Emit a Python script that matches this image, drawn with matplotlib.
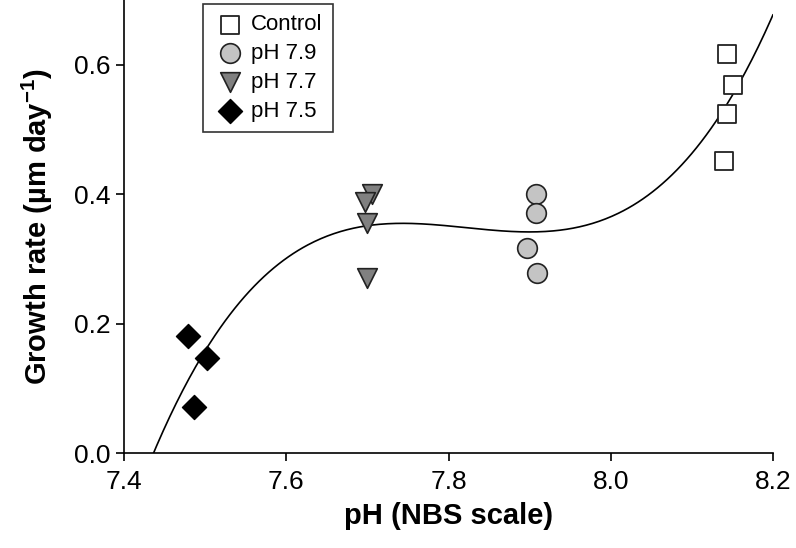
import matplotlib
matplotlib.use('Agg')
import matplotlib.pyplot as plt
import numpy as np

plt.rcParams['font.family'] = ['Liberation Sans', 'DejaVu Sans']
plt.rcParams['mathtext.fontset'] = 'custom'
plt.rcParams['mathtext.rm'] = 'Liberation Sans'
plt.rcParams['mathtext.bf'] = 'Liberation Sans:bold'

# data
control_ph = [8.143, 8.151, 8.143, 8.140]
control_rate = [0.617, 0.569, 0.524, 0.452]
ph79_ph = [7.908, 7.908, 7.897, 7.909]
ph79_rate = [0.400, 0.371, 0.317, 0.278]
ph77_ph = [7.706, 7.697, 7.700, 7.700]
ph77_rate = [0.401, 0.388, 0.356, 0.270]
ph75_ph = [7.479, 7.502, 7.486]
ph75_rate = [0.181, 0.147, 0.071]

x_ticks = [7.4, 7.6, 7.8, 8.0, 8.2]
y_ticks = [0.0, 0.2, 0.4, 0.6]

fig = plt.figure(figsize=(7.96, 5.48), dpi=100)
ax = fig.add_axes([0.156, 0.173, 0.815, 0.827])

# cubic regression through all the points
all_x = np.array(control_ph + ph79_ph + ph77_ph + ph75_ph)
all_y = np.array(control_rate + ph79_rate + ph77_rate + ph75_rate)
coef = np.polyfit(all_x, all_y, 3)
xs = np.linspace(7.4, 8.2, 400)
ys = np.polyval(coef, xs)
ax.plot(xs, ys, color='black', lw=1.2, zorder=1)

ax.scatter(control_ph, control_rate, marker='s', s=150, facecolor='white',
           edgecolor='#222222', linewidth=1.3, label='Control', zorder=3)
ax.scatter(ph79_ph, ph79_rate, marker='o', s=200, facecolor='#c4c4c4',
           edgecolor='#222222', linewidth=1.2, label='pH 7.9', zorder=3)
ax.scatter(ph77_ph, ph77_rate, marker='v', s=200, facecolor='#808080',
           edgecolor='#222222', linewidth=1.2, label='pH 7.7', zorder=3)
ax.scatter(ph75_ph, ph75_rate, marker='D', s=150, facecolor='black',
           edgecolor='black', linewidth=1.0, label='pH 7.5', zorder=3)

ax.set_xlim(7.4, 8.2)
ax.set_ylim(0.0, 0.70)
ax.set_xticks(x_ticks)
ax.set_xticklabels(['%.1f' % v for v in x_ticks], fontsize=19)
ax.set_yticks(y_ticks)
ax.set_yticklabels(['%.1f' % v for v in y_ticks], fontsize=19)
ax.tick_params(direction='out', length=6, width=1.2)
ax.tick_params(axis='x', pad=6)
for side in ['top', 'right']:
    ax.spines[side].set_visible(False)
for side in ['left', 'bottom']:
    ax.spines[side].set_linewidth(1.2)

ax.set_xlabel('pH (NBS scale)', fontsize=21, fontweight='bold', labelpad=6)
ax.set_ylabel(r'Growth rate (µm day$^{\mathbf{-1}}$)', fontsize=21,
              fontweight='bold', labelpad=14)

leg = ax.legend(loc='upper left', bbox_to_anchor=(0.115, 1.0), fontsize=16,
                frameon=True, fancybox=False, edgecolor='black',
                handletextpad=0.2, borderpad=0.45, labelspacing=0.35,
                handlelength=1.5, borderaxespad=0.2)
leg.get_frame().set_linewidth(1.2)

fig.savefig('out.png', dpi=100)
